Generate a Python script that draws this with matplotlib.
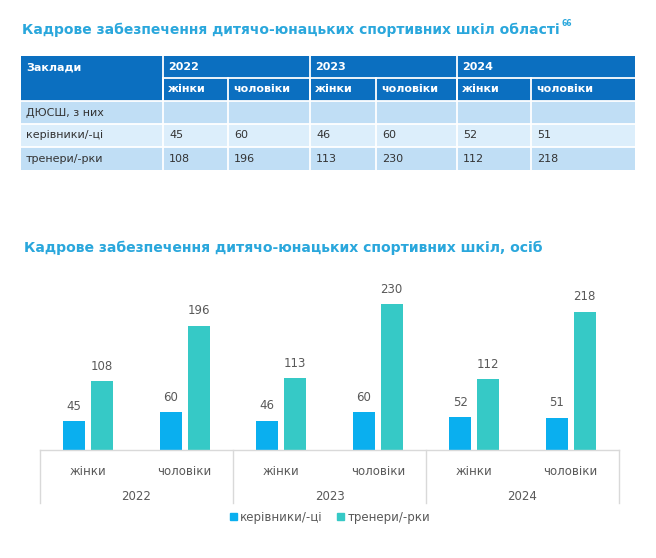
import numpy as np
import matplotlib
matplotlib.use("Agg")
import matplotlib.pyplot as plt
from matplotlib.patches import Rectangle, Patch

# Дані
years = ['2022', '2023', '2024']
genders = ['жінки', 'чоловіки']
managers = [45, 60, 46, 60, 52, 51]      # керівники/-ці
coaches = [108, 196, 113, 230, 112, 218]  # тренери/-рки
row_names = ['ДЮСШ, з них', 'керівники/-ці', 'тренери/-рки']

title_col = '#2AA7DC'
head_col = '#0B6FC0'
row_light = '#DCEEFB'
row_mid = '#C0DEF5'
txt_col = '#333333'
grey = '#595959'
blue = '#0AAFEF'
teal = '#36C9C6'

W, H = 656, 558
fig = plt.figure(figsize=(W / 100, H / 100), dpi=100)

# полотно в пікселях для таблиці та заголовків
bg = fig.add_axes([0, 0, 1, 1])
bg.set_xlim(0, W)
bg.set_ylim(H, 0)
bg.axis('off')

bg.text(22, 30, 'Кадрове забезпечення дитячо-юнацьких спортивних шкіл області',
        color=title_col, fontsize=10.0, fontweight='bold', va='center', ha='left')
bg.text(562, 24, '66', color=title_col, fontsize=5.5, fontweight='bold', va='center')

# таблиця
x_cols = [21, 163, 228, 310, 376, 457, 531, 635]
y_rows = [56, 78, 101, 124, 147, 170]
lw = 1.3

# шапка
bg.add_patch(Rectangle((x_cols[0], y_rows[0]), x_cols[-1] - x_cols[0], y_rows[2] - y_rows[0],
                       color=head_col, lw=0))
bg.text(x_cols[0] + 5, (y_rows[0] + y_rows[1]) / 2, 'Заклади', color='white',
        fontsize=8, fontweight='bold', va='center')
for i, yr in enumerate(years):
    x0 = x_cols[1 + 2 * i]
    bg.plot([x0, x0], [y_rows[0], y_rows[2]], color='white', lw=lw)
    bg.text(x0 + 5, (y_rows[0] + y_rows[1]) / 2, yr, color='white',
            fontsize=8, fontweight='bold', va='center')
    for j, g in enumerate(genders):
        xs = x_cols[1 + 2 * i + j]
        bg.plot([xs, xs], [y_rows[1], y_rows[2]], color='white', lw=lw)
        bg.text(xs + 5, (y_rows[1] + y_rows[2]) / 2, g, color='white',
                fontsize=8, fontweight='bold', va='center')
bg.plot([x_cols[1], x_cols[-1]], [y_rows[1], y_rows[1]], color='white', lw=lw)

# рядки
body_vals = [[''] * 6, managers, coaches]
for r, name in enumerate(row_names):
    y0, y1 = y_rows[2 + r], y_rows[3 + r]
    fc = row_light if r == 1 else row_mid
    bg.add_patch(Rectangle((x_cols[0], y0), x_cols[-1] - x_cols[0], y1 - y0, color=fc, lw=0))
    bg.text(x_cols[0] + 5, (y0 + y1) / 2, name, color=txt_col, fontsize=8, va='center')
    for c in range(6):
        xs = x_cols[1 + c]
        bg.plot([xs, xs], [y0, y1], color='white', lw=lw)
        bg.text(xs + 6, (y0 + y1) / 2, str(body_vals[r][c]), color=txt_col,
                fontsize=8, va='center')
    bg.plot([x_cols[0], x_cols[-1]], [y0, y0], color='white', lw=lw)

bg.text(24, 248, 'Кадрове забезпечення дитячо-юнацьких спортивних шкіл, осіб',
        color=title_col, fontsize=10.05, fontweight='bold', va='center', ha='left')

# стовпчикова діаграма
ax_l, ax_r, ax_b, ax_t = 40, 619, 450, 290
ax = fig.add_axes([ax_l / W, 1 - ax_b / H, (ax_r - ax_l) / W, (ax_b - ax_t) / H])
ymax = (ax_b - ax_t) / 0.635
x = np.arange(len(managers))
bw = 0.225
ax.bar(x - 0.145, managers, bw, color=blue)
ax.bar(x + 0.145, coaches, bw, color=teal)
for xi, m, c in zip(x, managers, coaches):
    ax.annotate(str(m), (xi - 0.145, m), xytext=(0, 6), textcoords='offset points',
                ha='center', va='bottom', color=grey, fontsize=8.5)
    ax.annotate(str(c), (xi + 0.145, c), xytext=(0, 6), textcoords='offset points',
                ha='center', va='bottom', color=grey, fontsize=8.5)

ax.set_xlim(-0.5, 5.5)
ax.set_ylim(0, ymax)
ax.set_yticks([])
for s in ['top', 'left', 'right']:
    ax.spines[s].set_visible(False)
ax.spines['bottom'].set_color('#D9D9D9')
ax.spines['bottom'].set_linewidth(1)
ax.set_xticks(x)
ax.set_xticklabels(genders * 3, color=grey, fontsize=8.5)
ax.tick_params(axis='x', length=0, pad=11)

ax_h = ax_b - ax_t
trans = ax.get_xaxis_transform()
for b in [-0.5, 1.5, 3.5, 5.5]:
    ax.plot([b, b], [0, -53 / ax_h], color='#D9D9D9', lw=1, transform=trans, clip_on=False)
for i, yr in enumerate(years):
    ax.text(2 * i + 0.5, -47 / ax_h, yr, transform=trans, ha='center', va='center',
            color=grey, fontsize=8.5)

handles = [Patch(color=blue, label='керівники/-ці'), Patch(color=teal, label='тренери/-рки')]
fig.legend(handles=handles, loc='center', bbox_to_anchor=(330 / W, 1 - 517 / H), ncol=2,
           frameon=False, handlelength=0.6, handleheight=0.6, handletextpad=0.3,
           columnspacing=1.2, fontsize=8.5, labelcolor=grey)

fig.savefig('out.png', dpi=100)
